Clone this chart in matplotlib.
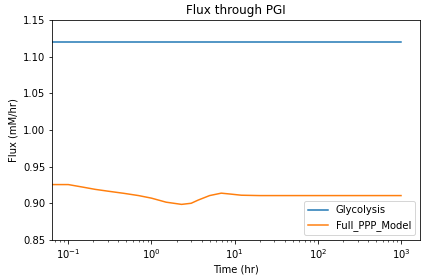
import numpy as np
import matplotlib
matplotlib.use('Agg')
import matplotlib.pyplot as plt

# time points (hr) and fluxes
t_glyc = [0.064, 1000]
flux_glyc = [1.12, 1.12]

t_ppp = [0.064, 0.1, 0.15, 0.21, 0.3, 0.47, 0.7, 1.0, 1.5, 2.3, 3.0, 3.65, 5.0, 6.9, 9.0, 12, 20, 50, 100, 1000]
flux_ppp = [0.9255, 0.9255, 0.922, 0.919, 0.9165, 0.9135, 0.9105, 0.907, 0.9015, 0.8985, 0.9, 0.9044, 0.9105, 0.9138, 0.9125, 0.911, 0.9105, 0.9105, 0.9105, 0.9105]

plt.figure(figsize=(424/72, 280/72), dpi=72)
plt.subplots_adjust(left=0.123, right=0.991, top=0.929, bottom=0.143)

plt.plot(t_glyc, flux_glyc, label='Glycolysis')
plt.plot(t_ppp, flux_ppp, label='Full_PPP_Model')

plt.xscale('log')
plt.xlim(0.064, 1700)
plt.ylim(0.85, 1.15)
plt.title('Flux through PGI')
plt.xlabel('Time (hr)')
plt.ylabel('Flux (mM/hr)')
plt.legend(loc='lower right')

plt.savefig('out.png', dpi=72)
